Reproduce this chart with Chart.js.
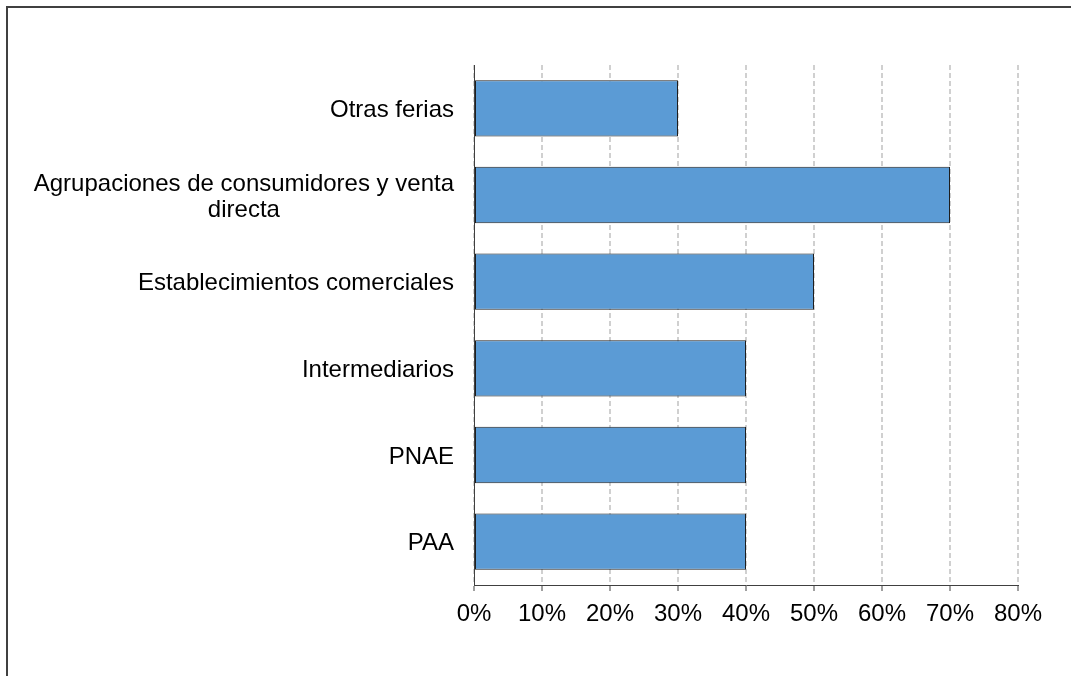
<!DOCTYPE html>
<html>
<head>
<meta charset="utf-8">
<script src="https://cdn.jsdelivr.net/npm/chart.js@4.4.1/dist/chart.umd.min.js"></script>
<style>
  html, body { margin: 0; padding: 0; background: #ffffff; overflow: hidden; }
  #wrap { position: relative; width: 1071px; height: 676px; }
  #frame { position: absolute; left: 6px; top: 6px; width: 2000px; height: 2000px; border: 2px solid #404040; box-sizing: border-box; pointer-events: none; }
  canvas { position: absolute; left: 0; top: 0; }
</style>
</head>
<body>
<div id="wrap">
  <canvas id="c" width="1071" height="676"></canvas>
  <div id="frame"></div>
</div>
<script>
const categories = [
  ["Otras ferias"],
  ["Agrupaciones de consumidores y venta", "directa"],
  ["Establecimientos comerciales"],
  ["Intermediarios"],
  ["PNAE"],
  ["PAA"]
];
const values = [30, 70, 50, 40, 40, 40];
const xTickValues = [0, 10, 20, 30, 40, 50, 60, 70, 80];
const xTickLabels = ["0%", "10%", "20%", "30%", "40%", "50%", "60%", "70%", "80%"];

const FONT = "'Liberation Sans', Arial, sans-serif";
const FONT_SIZE = 24;

const yLabelPlugin = {
  id: 'yLabels',
  afterDraw(chart) {
    const ctx = chart.ctx;
    const ys = chart.scales.y;
    const rightEdge = ys.right - 20;
    const lineH = 26;
    ctx.save();
    ctx.font = FONT_SIZE + "px " + FONT;
    ctx.fillStyle = "#000000";
    ctx.textBaseline = "middle";
    categories.forEach((lines, i) => {
      const yc = ys.getPixelForTick(i);
      const widths = lines.map(l => ctx.measureText(l).width);
      const maxW = Math.max(...widths);
      const startY = yc - (lines.length - 1) * lineH / 2 + 2;
      lines.forEach((l, j) => {
        ctx.textAlign = "center";
        ctx.fillText(l, rightEdge - maxW / 2, startY + j * lineH);
      });
    });
    ctx.restore();
  }
};

new Chart(document.getElementById('c'), {
  type: 'bar',
  data: {
    labels: categories.map(c => c.join(' ')),
    datasets: [{
      data: values,
      backgroundColor: '#5b9bd5',
      borderColor: '#1e1e1e',
      borderWidth: 1,
      borderSkipped: false,
      categoryPercentage: 1.0,
      barPercentage: 0.65
    }]
  },
  options: {
    indexAxis: 'y',
    responsive: false,
    animation: false,
    devicePixelRatio: 1,
    layout: { padding: { top: 65, right: 53, bottom: 41, left: 0 } },
    plugins: {
      legend: { display: false },
      tooltip: { enabled: false }
    },
    scales: {
      x: {
        type: 'linear',
        min: 0,
        max: 80,
        afterFit(s) { s.height = 50; },
        afterBuildTicks(s) { s.ticks = xTickValues.map(v => ({ value: v })); },
        ticks: {
          callback: (v) => xTickLabels[xTickValues.indexOf(v)],
          font: { family: FONT, size: FONT_SIZE },
          color: '#000000',
          padding: 9,
          maxRotation: 0,
          autoSkip: false
        },
        grid: {
          display: true,
          drawOnChartArea: true,
          drawTicks: true,
          color: '#d0d0d0',
          lineWidth: 2,
          tickLength: 6,
          tickColor: '#404040',
          tickWidth: 1,
          tickBorderDash: []
        },
        border: { display: true, color: '#404040', width: 1, dash: [5, 3] }
      },
      y: {
        afterFit(s) { s.width = 474; },
        ticks: { display: false },
        grid: { display: false, drawTicks: false },
        border: { display: true, color: '#404040', width: 1 }
      }
    }
  },
  plugins: [yLabelPlugin]
});
</script>
</body>
</html>
